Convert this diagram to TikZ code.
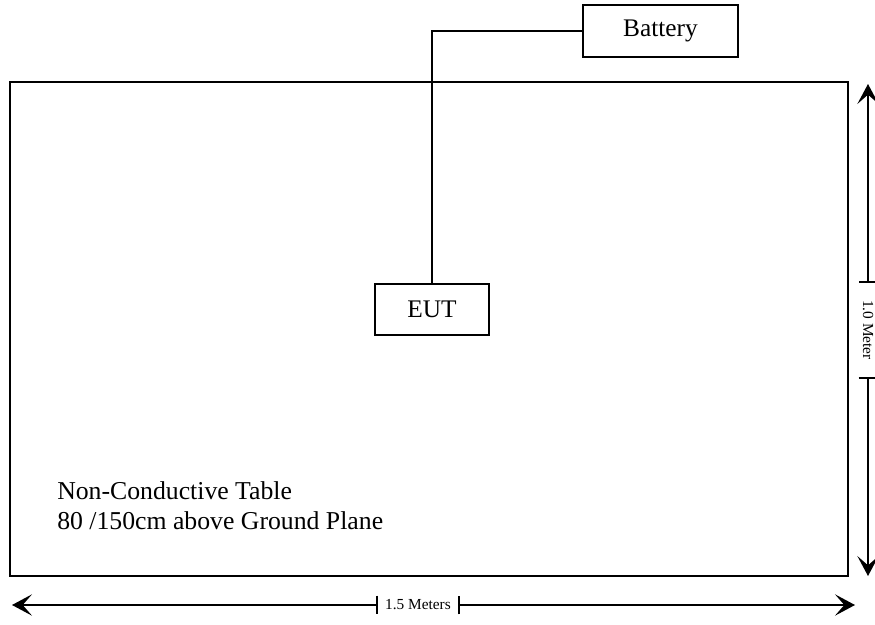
\documentclass[tikz,border=0pt]{standalone}
\usepackage{fontspec}
\setmainfont{Liberation Serif}
\usepackage{tikz}
\usetikzlibrary{arrows.meta,positioning}
\tikzset{
  labelbox/.style={
    draw,line width=1.4pt,minimum height=38.5pt,inner sep=0pt,
    font=\fontsize{19}{23}\selectfont
  },
  tablebox/.style={draw,line width=1.5pt,minimum width=628.5pt,minimum height=370.5pt,inner sep=0pt},
  wire/.style={draw,line width=1pt},
  dimline/.style={draw,line width=1pt,{Stealth[length=15pt,width=16pt,inset=7pt]}-{Bar[width=14pt]}},
  dimlabel/.style={inner sep=0pt,font=\fontsize{11.5}{13}\selectfont}
}
\begin{document}
\begin{tikzpicture}[x=0.75pt,y=-0.75pt]
  \useasboundingbox (0,0) rectangle (875,625);
  % table and boxes
  \node[tablebox] (table) at (429,329) {};
  \node[labelbox,minimum width=85.5pt] (eut) at (432,309.5) {EUT};
  \node[labelbox,minimum width=116pt] (bat) at (660.5,31) {Battery};
  \draw[wire] (bat.west) -| (eut.north);
  \node[align=left,anchor=west,inner sep=0pt,font=\fontsize{19.3}{22.5}\selectfont] (note) at (57,506)
    {Non-Conductive Table\\80 /150cm above Ground Plane};
  % dimensions
  \coordinate (hl) at (12,605);
  \coordinate (hr) at (855,605);
  \node[dimlabel,minimum width=60pt] (hlab) at (418,605) {1.5 Meters};
  \draw[dimline] (hl) -- (hlab.west);
  \draw[dimline] (hr) -- (hlab.east);
  \coordinate (vt) at (868,84);
  \coordinate (vb) at (868,576);
  \node[dimlabel,rotate=-90,minimum width=70.5pt] (vlab) at (868,330) {1.0 Meter};
  \draw[dimline] (vt) -- (vlab.west);
  \draw[dimline] (vb) -- (vlab.east);
\end{tikzpicture}
\end{document}
